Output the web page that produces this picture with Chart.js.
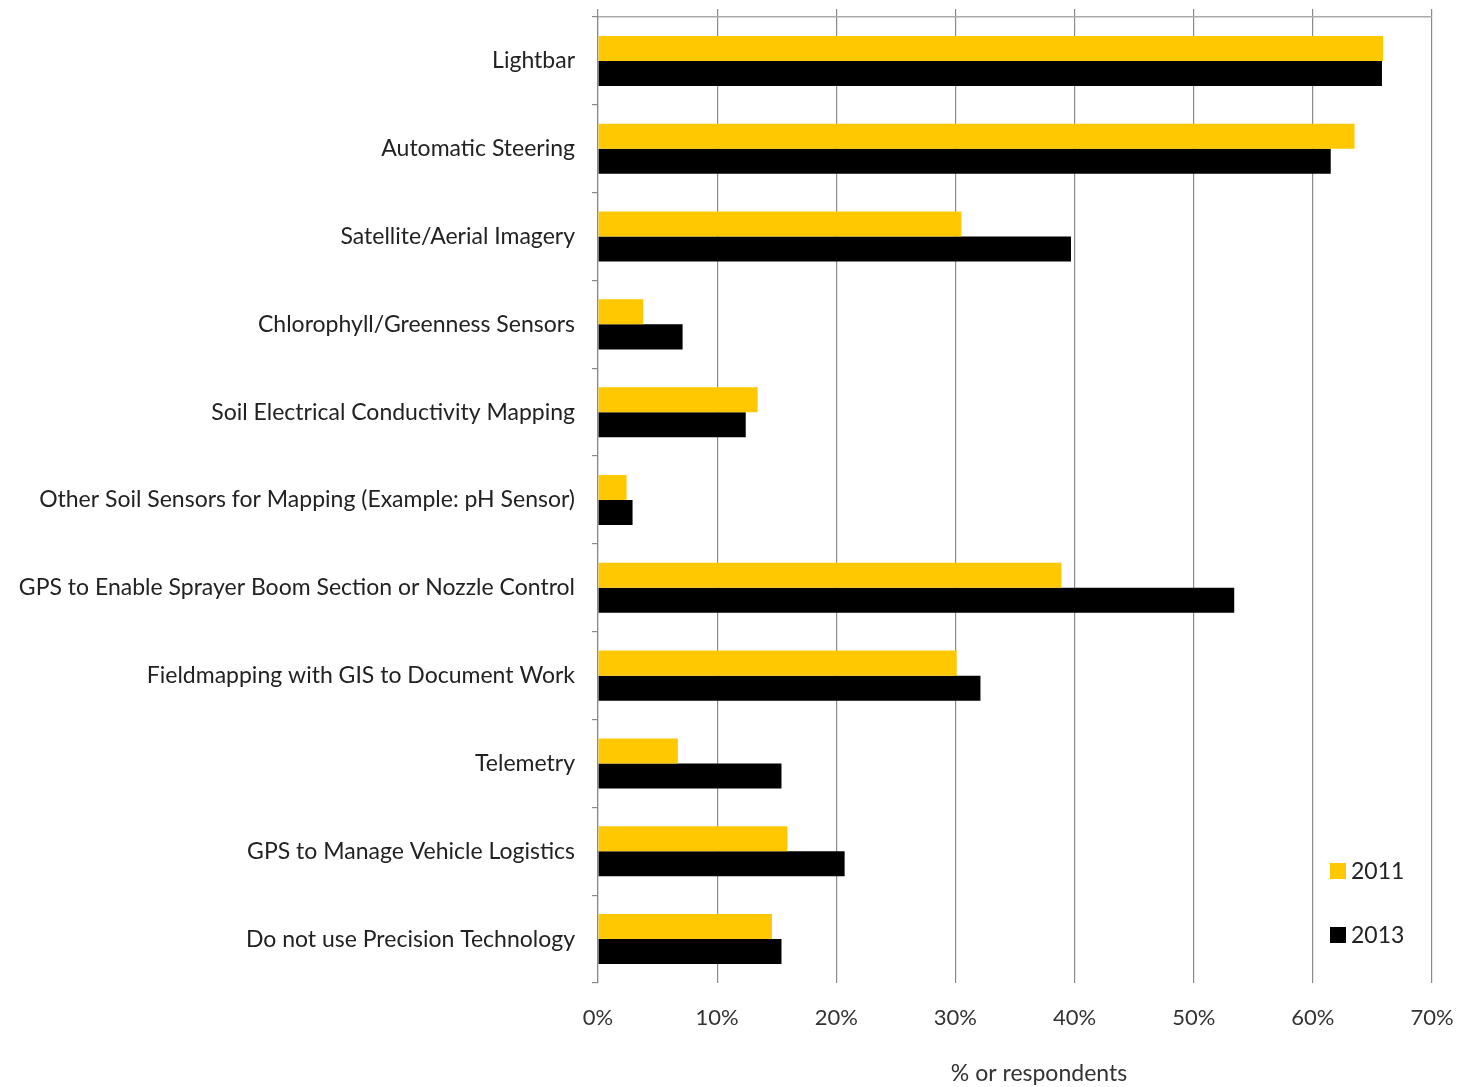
<!DOCTYPE html>
<html>
<head>
<meta charset="utf-8">
<script src="https://cdn.jsdelivr.net/npm/chart.js@4.4.1/dist/chart.umd.min.js"></script>
<style>
  html, body { margin: 0; padding: 0; background: #fff; }
  #wrap { width: 1460px; height: 1087px; }
</style>
</head>
<body>
<div id="wrap"><canvas id="myChart"></canvas></div>
<script>
// categories and values (% of respondents)
const categories = [
    "Lightbar",
    "Automatic Steering",
    "Satellite/Aerial Imagery",
    "Chlorophyll/Greenness Sensors",
    "Soil Electrical Conductivity Mapping",
    "Other Soil Sensors for Mapping (Example: pH Sensor)",
    "GPS to Enable Sprayer Boom Section or Nozzle Control",
    "Fieldmapping with GIS to Document Work",
    "Telemetry",
    "GPS to Manage Vehicle Logistics",
    "Do not use Precision Technology"
];
const values2011 = [65.9, 63.5, 30.5, 3.8, 13.4, 2.4, 38.9, 30.1, 6.7, 15.9, 14.6];
const values2013 = [65.8, 61.5, 39.7, 7.1, 12.4, 2.9, 53.4, 32.1, 15.4, 20.7, 15.4];
const seriesNames = ["2011", "2013"];
const xTicks = [0, 10, 20, 30, 40, 50, 60, 70];
const axisTitle = "% or respondents";

const FONT = "Lato, 'Open Sans', sans-serif";
const GRID = "#8a8a8a";

// no extra edge padding from the scales, the layout padding decides the plot box
function noPad(scale) {
    scale.paddingTop = 0;
    scale.paddingBottom = 0;
    scale.paddingLeft = 0;
    scale.paddingRight = 0;
}

// legend inside the plot (bottom right) and the x axis title, which sits a bit right of centre
const extras = {
    id: 'extras',
    afterDraw(chart) {
        const ctx = chart.ctx;
        const area = chart.chartArea;
        const offsets = [112, 48];
        ctx.save();
        ctx.font = "23px " + FONT;
        ctx.textBaseline = 'middle';
        ctx.textAlign = 'left';
        chart.data.datasets.forEach((ds, i) => {
            let y = area.bottom - offsets[i];
            let x = area.right - 102;
            ctx.fillStyle = ds.backgroundColor;
            ctx.fillRect(x, y - 8, 16, 16);
            ctx.fillStyle = '#222';
            ctx.fillText(ds.label, x + 21, y + 1);
        });

        const xs = chart.scales.x;
        ctx.fillStyle = '#333';
        ctx.textAlign = 'center';
        ctx.fillText(axisTitle, (area.left + area.right) / 2 + 24, xs.bottom - 12);
        ctx.restore();
    }
};

let ctx = document.getElementById('myChart');
let chart = new Chart(ctx, {
    type: 'bar',
    data: {
        labels: categories,
        datasets: [{
            label: seriesNames[0],
            backgroundColor: '#ffc800',
            data: values2011
        }, {
            label: seriesNames[1],
            backgroundColor: '#000000',
            data: values2013
        }]
    },
    options: {
        indexAxis: 'y',
        responsive: true,
        maintainAspectRatio: false,
        animation: false,
        layout: { padding: { top: 9, right: 28, bottom: 1, left: 0 } },
        datasets: {
            bar: { barPercentage: 1.0, categoryPercentage: 0.57 }
        },
        plugins: {
            legend: { display: false },
            tooltip: { enabled: false }
        },
        scales: {
            x: {
                min: 0,
                max: 70,
                afterBuildTicks(scale) {
                    scale.ticks = xTicks.map(v => ({ value: v }));
                },
                afterFit(scale) { noPad(scale); scale.height = 103; },
                grid: { color: GRID, drawTicks: false, lineWidth: 1.2 },
                border: { display: false },
                ticks: {
                    padding: 22,
                    maxRotation: 0,
                    color: '#333',
                    font: { family: FONT, size: 22 },
                    callback: v => v + '%'
                }
            },
            x2: {
                position: 'top',
                min: 0,
                max: 70,
                afterBuildTicks(scale) {
                    scale.ticks = xTicks.map(v => ({ value: v }));
                },
                afterFit(scale) { noPad(scale); scale.height = 8; },
                grid: { color: GRID, drawOnChartArea: false, tickLength: 8, lineWidth: 1.2 },
                border: { display: true, color: '#aaaaaa', width: 1.5 },
                ticks: { display: false }
            },
            y: {
                afterFit(scale) { noPad(scale); scale.width = 598; },
                grid: { offset: true, drawOnChartArea: false, color: GRID, tickLength: 6, lineWidth: 1.2 },
                border: { display: true, color: GRID, width: 1.2 },
                ticks: {
                    padding: 17,
                    color: '#222',
                    font: { family: FONT, size: 23 }
                }
            }
        }
    },
    plugins: [extras]
});
</script>
</body>
</html>
